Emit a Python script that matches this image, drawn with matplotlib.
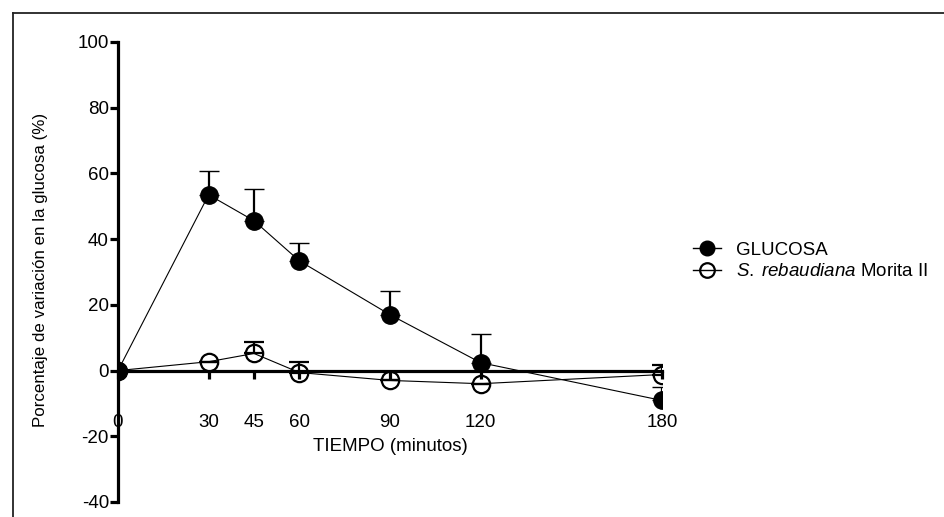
import numpy as np
import matplotlib.pyplot as plt
from matplotlib.lines import Line2D

plt.rcParams['font.family'] = ['Liberation Sans', 'DejaVu Sans']
plt.rcParams['mathtext.fontset'] = 'custom'
plt.rcParams['mathtext.rm'] = 'Liberation Sans'
plt.rcParams['mathtext.it'] = 'Liberation Sans:italic'
plt.rcParams['axes.unicode_minus'] = False

tiempo = [0, 30, 45, 60, 90, 120, 180]
glucosa = [0, 53.5, 45.6, 33.4, 17.0, 2.4, -9.1]
glucosa_err = [0, 7.3, 9.7, 5.5, 7.3, 8.8, 4.2]
stevia = [0, 2.7, 5.2, -0.6, -3.0, -4.0, -1.2]
stevia_err = [0, 0, 3.6, 3.3, 0, 0, 3.0]
yticks = [-40, -20, 0, 20, 40, 60, 80, 100]

fig = plt.figure(figsize=(9.45, 5.17), dpi=100)
W, H = 945, 517
ax = fig.add_axes([118/W, 1-502/H, (662-118)/W, (502-42)/H])

# frame around the figure (top and left edges only visible)
fig.add_artist(Line2D([13/W, 13/W], [0, 1-13/H], color='#222222', lw=1.3))
fig.add_artist(Line2D([13/W, 1], [1-13/H, 1-13/H], color='#222222', lw=1.3))

zeros = np.zeros(len(tiempo))
ax.errorbar(tiempo, glucosa, yerr=[zeros, glucosa_err], fmt='o-', color='black',
            ms=12.5, mew=1.0, lw=0.8, elinewidth=1.6, capsize=7, capthick=1.6,
            zorder=4)
ax.errorbar(tiempo, stevia, yerr=[zeros, stevia_err], fmt='o-', color='black',
            mfc='none', mec='black', mew=1.6, ms=12.5, lw=0.8, elinewidth=1.6,
            capsize=7, capthick=1.6, zorder=3)

ax.set_xlim(0, 180)
ax.set_ylim(-40, 100)
ax.set_xticks(tiempo)
ax.set_yticks(yticks)
for s in ['top', 'right']:
    ax.spines[s].set_visible(False)
ax.spines['bottom'].set_position(('data', 0))
ax.spines['bottom'].set_linewidth(2.3)
ax.spines['left'].set_linewidth(2.3)
ax.spines['bottom'].set_zorder(2)
ax.tick_params(axis='y', direction='out', length=5.5, width=2.3, labelsize=13.5, pad=1)
ax.tick_params(axis='x', direction='out', length=6, width=2.3, labelsize=13.5, pad=25)

ax.set_xlabel('TIEMPO (minutos)', fontsize=13.5)
ax.xaxis.set_label_coords(0.5, 0.14)
ax.set_ylabel('Porcentaje de variación en la glucosa (%)', fontsize=12.2)
ax.yaxis.set_label_coords(-0.128, 0.504)

handles = [Line2D([], [], color='black', lw=1.0, marker='o', ms=10.5),
           Line2D([], [], color='black', lw=1.0, marker='o', ms=10.5,
                  mfc='none', mew=1.6)]
labels = ['GLUCOSA', '$\\it{S.\\;rebaudiana}$ Morita II']
ax.legend(handles, labels, loc='center left', bbox_to_anchor=(693/W, 1-261/H),
          bbox_transform=fig.transFigure, frameon=False, fontsize=13.5,
          borderpad=0, borderaxespad=0,
          handlelength=1.5, handletextpad=0.8, labelspacing=0.25)

plt.savefig('out.png', dpi=100)
